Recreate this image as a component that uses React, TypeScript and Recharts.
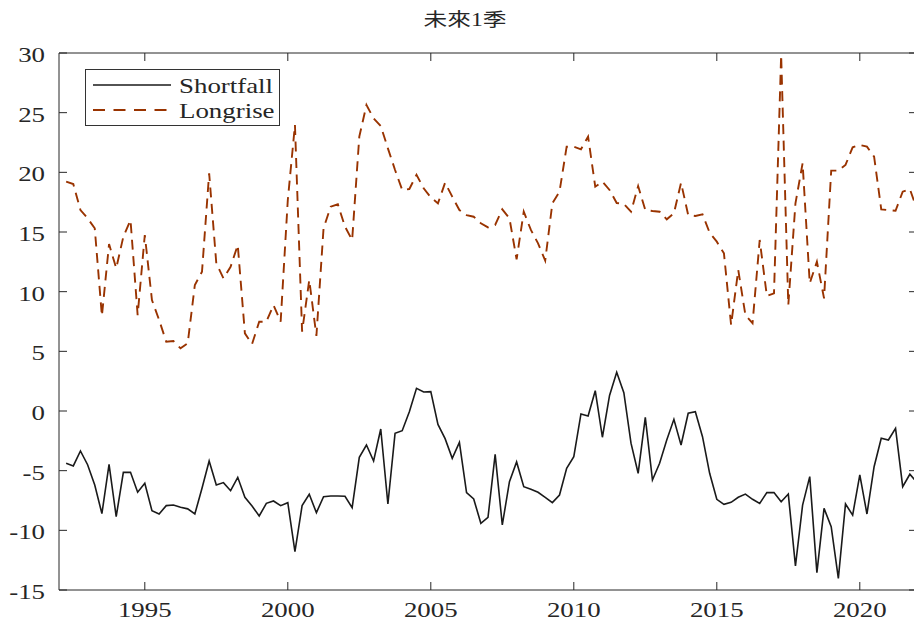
// @ts-nocheck
import React from 'react'
import { LineChart, Line, XAxis, YAxis, Legend } from 'recharts'

// quarterly observations, first one at 1992.25
const startYear = 1992

const shortfall = [
  -4.38, -4.6, -3.35, -4.5, -6.2, -8.6, -4.47, -8.85, -5.14, -5.14,
  -6.8, -6.06, -8.35, -8.63, -7.93, -7.88, -8.07, -8.2, -8.63, -6.48,
  -4.19, -6.2, -6.0, -6.68, -5.56, -7.23, -7.96, -8.8, -7.74, -7.54,
  -7.93, -7.68, -11.79, -7.93, -6.98, -8.52, -7.18, -7.12, -7.12, -7.15,
  -8.1, -3.88, -2.85, -4.19, -1.51, -7.79, -1.87, -1.65, -0.06, 1.9,
  1.59, 1.62, -1.12, -2.32, -3.97, -2.63, -6.84, -7.37, -9.41, -8.91,
  -3.63, -9.55, -5.92, -4.27, -6.34, -6.56, -6.81, -7.23, -7.68, -7.04,
  -4.8, -3.83, -0.25, -0.42, 1.7, -2.2, 1.3, 3.24, 1.53, -2.7,
  -5.22, -0.53, -5.78, -4.38, -2.43, -0.7, -2.85, -0.19, -0.06, -2.15,
  -5.22, -7.4, -7.82, -7.65, -7.23, -6.96, -7.4, -7.74, -6.84, -6.84,
  -7.6, -6.96, -12.99, -7.88, -5.5, -13.55, -8.16, -9.69, -14.02, -7.79,
  -8.72, -5.36, -8.63, -4.67, -2.29, -2.43, -1.45, -6.34, -5.3, -6.0,
]

const longrise = [
  19.22, 19.02, 16.84, 16.15, 15.31, 7.96, 13.99, 11.96, 14.61, 16.0,
  8.04, 14.75, 9.3, 7.63, 5.8, 5.87, 5.25, 5.67, 10.56, 11.67,
  19.92, 12.38, 11.12, 12.09, 13.91, 6.51, 5.61, 7.48, 7.48, 8.88,
  7.48, 17.68, 23.97, 6.65, 10.98, 6.29, 15.31, 17.12, 17.32, 15.45,
  14.33, 22.99, 25.64, 24.53, 23.88, 22.01, 20.2, 18.52, 18.6, 19.8,
  18.66, 17.9, 17.4, 19.13, 17.96, 16.84, 16.42, 16.28, 15.73, 15.39,
  15.59, 16.9, 16.15, 12.71, 16.7, 15.17, 14.05, 12.6, 17.4, 18.38,
  22.15, 22.15, 21.93, 22.99, 18.8, 19.22, 18.52, 17.43, 17.35, 16.7,
  18.85, 16.84, 16.76, 16.7, 16.06, 16.56, 19.13, 16.42, 16.34, 16.48,
  14.94, 14.19, 13.21, 7.21, 11.82, 8.04, 7.35, 14.33, 9.64, 9.86,
  29.83, 8.88, 17.4, 20.76, 10.7, 12.51, 9.44, 20.14, 20.14, 20.62,
  22.1, 22.3, 22.15, 21.31, 16.9, 16.84, 16.78, 18.38, 18.6, 16.9,
]

const yearTicks = [1995, 2000, 2005, 2010, 2015, 2020]
const valueTicks = [-15, -10, -5, 0, 5, 10, 15, 20, 25, 30]
const title = '未來1季'

const series = [
  { key: 'shortfall', name: 'Shortfall', color: '#1a1a1a', width: 1.6, dash: undefined, legendDash: undefined },
  { key: 'longrise', name: 'Longrise', color: '#993300', width: 1.9, dash: '10 6.5', legendDash: '12 8.5' },
]

const data = shortfall.map((s, i) => ({
  t: startYear + (i + 1) / 4,
  shortfall: s,
  longrise: longrise[i],
}))

const SERIF = "'Liberation Serif', 'Times New Roman', serif"
const SX = 1.28
const INK = '#262626'

function XTick({ x, y, payload }) {
  return (
    <text transform={`translate(${x},${y}) scale(${SX},1)`} textAnchor="middle" fontFamily={SERIF} fontSize={21} fill={INK}>
      {payload.value}
    </text>
  )
}

function YTick({ x, y, payload }) {
  return (
    <text transform={`translate(${x},${y + 9}) scale(${SX},1)`} textAnchor="end" fontFamily={SERIF} fontSize={21} fill={INK}>
      {payload.value}
    </text>
  )
}

const NoTick = () => <g />

function LegendBox() {
  return (
    <svg width={196} height={58} style={{ display: 'block' }}>
      <rect x={0.5} y={0.5} width={194} height={56} fill="#fff" stroke="#333" />
      {series.map((s, i) => (
        <g key={s.key}>
          <line x1={8} x2={86} y1={16 + i * 25} y2={16 + i * 25} stroke={s.color} strokeWidth={s.width} strokeDasharray={s.legendDash} />
          <text transform={`translate(94,${23.5 + i * 25}) scale(${SX},1)`} fontFamily={SERIF} fontSize={21} fill={INK}>
            {s.name}
          </text>
        </g>
      ))}
    </svg>
  )
}

export default function App() {
  return (
    <div style={{ position: 'absolute', left: 0, top: 0, width: 914, height: 627, overflow: 'hidden', background: '#fff' }}>
      <div
        style={{
          position: 'absolute', left: 0, top: 9, width: 930, textAlign: 'center',
          fontFamily: "'Liberation Serif', 'Noto Sans CJK TC', serif", fontSize: 18.5, lineHeight: '22px',
          color: INK, transform: `scaleX(${SX})`, zIndex: 2,
        }}
      >
        {title}
      </div>
      <LineChart width={930} height={627} data={data} margin={{ top: 43, right: 8, bottom: 0, left: 0 }}>
        <XAxis
          xAxisId="bottom" dataKey="t" type="number" domain={[1992, 2022]} allowDataOverflow
          ticks={yearTicks} interval={0} height={37} tickSize={-8} tickMargin={35}
          stroke={INK} tick={<XTick />}
        />
        <XAxis
          xAxisId="top" orientation="top" dataKey="t" type="number" domain={[1992, 2022]} allowDataOverflow
          ticks={yearTicks} interval={0} height={10} tickSize={-8} stroke={INK} tick={<NoTick />}
        />
        <YAxis
          yAxisId="left" type="number" domain={[-15, 30]} allowDataOverflow ticks={valueTicks} interval={0}
          width={59} tickSize={-8} tickMargin={22} stroke={INK} tick={<YTick />}
        />
        <YAxis
          yAxisId="right" orientation="right" type="number" domain={[-15, 30]} allowDataOverflow ticks={valueTicks}
          interval={0} width={5} tickSize={-8} stroke={INK} tick={<NoTick />}
        />
        <Legend
          layout="vertical" align="center" verticalAlign="middle"
          content={<LegendBox />}
          wrapperStyle={{ left: 85, top: 69, width: 196, height: 58 }}
        />
        {series.map((s) => (
          <Line
            key={s.key} xAxisId="bottom" yAxisId="left" type="linear" dataKey={s.key} name={s.name}
            stroke={s.color} strokeWidth={s.width} strokeDasharray={s.dash} dot={false}
            isAnimationActive={false}
          />
        ))}
      </LineChart>
    </div>
  )
}
